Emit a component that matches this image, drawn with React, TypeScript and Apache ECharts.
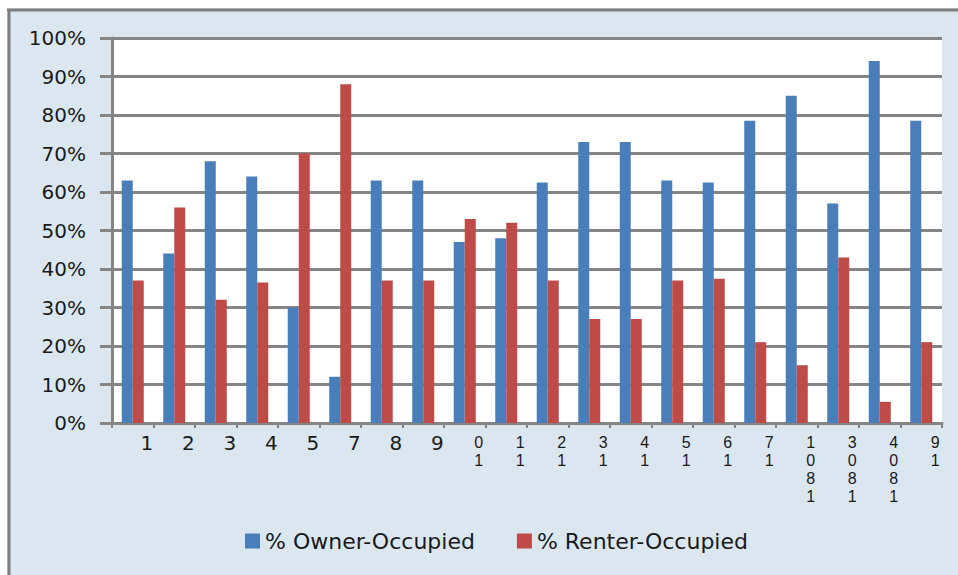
import { useEffect, useRef } from "react";
import * as echarts from "echarts";

const categories = ["1", "2", "3", "4", "5", "7", "8", "9", "10", "11", "12", "13", "14", "15", "16", "17", "1801", "1803", "1804", "19"];
const ownerOccupied = [63, 44, 68, 64, 30, 12, 63, 63, 47, 48, 62.5, 73, 73, 63, 62.5, 78.5, 85, 57, 94, 78.5];
const renterOccupied = [37, 56, 32, 36.5, 70, 88, 37, 37, 53, 52, 37, 27, 27, 37, 37.5, 21, 15, 43, 5.5, 21];
const seriesNames = ["% Owner-Occupied", "% Renter-Occupied"];

const FONT = "DejaVu Sans";
const GRAY = "#858585";

export default function App() {
  const ref = useRef<HTMLDivElement>(null);
  useEffect(() => {
    if (!ref.current) return;
    const chart = echarts.init(ref.current, null, { renderer: "svg" });
    chart.setOption({
      animation: false,
      backgroundColor: "#dbe7f0",
      textStyle: { fontFamily: FONT },
      graphic: [
        { type: "rect", silent: true, z: 100, shape: { x: 0, y: 0, width: 958, height: 8 }, style: { fill: "#ffffff" } },
        { type: "rect", silent: true, z: 100, shape: { x: 0, y: 0, width: 7, height: 575 }, style: { fill: "#ffffff" } },
        { type: "line", silent: true, z: 101, shape: { x1: 7, y1: 10, x2: 958, y2: 10 }, style: { stroke: "#7f7f7f", lineWidth: 3 } },
        { type: "line", silent: true, z: 101, shape: { x1: 9, y1: 9, x2: 9, y2: 575 }, style: { stroke: "#7f7f7f", lineWidth: 3 } },
      ],
      legend: {
        data: seriesNames,
        left: 245,
        top: 530,
        padding: 0,
        icon: "rect",
        itemWidth: 15,
        itemHeight: 15,
        itemGap: 42,
        textStyle: { fontFamily: FONT, fontSize: 22, color: "#1a1a1a" },
      },
      grid: {
        left: 112,
        right: 16,
        top: 38,
        bottom: 152,
        show: true,
        backgroundColor: "#ffffff",
        borderWidth: 0,
      },
      xAxis: {
        type: "category",
        data: categories,
        axisLine: { lineStyle: { color: GRAY, width: 3 } },
        axisTick: { show: true, length: 5, interval: 0, lineStyle: { color: GRAY, width: 2 } },
        axisLabel: {
          interval: 0,
          margin: 10,
          fontFamily: FONT,
          fontSize: 20,
          color: "#1a1a1a",
          padding: [0, 0, 0, 28],
          formatter: (v: string) => (v.length > 1 ? `{s|${v.split("").reverse().join("\n")}}` : v),
          rich: {
            s: { fontFamily: "Liberation Sans", fontSize: 16, lineHeight: 18, color: "#1a1a1a" },
          },
        },
      },
      yAxis: {
        type: "value",
        min: 0,
        max: 100,
        interval: 10,
        axisLine: { show: true, lineStyle: { color: GRAY, width: 3 } },
        axisTick: { show: true, length: 12, lineStyle: { color: GRAY, width: 3 } },
        splitLine: { show: true, lineStyle: { color: GRAY, width: 3 } },
        axisLabel: {
          margin: 26,
          fontFamily: FONT,
          fontSize: 20,
          color: "#1a1a1a",
          formatter: (v: number) => `${v}%`,
        },
      },
      series: [
        {
          name: seriesNames[0],
          type: "bar",
          data: ownerOccupied,
          barWidth: 11,
          barGap: "0%",
          itemStyle: { color: "#4a7ebb" },
        },
        {
          name: seriesNames[1],
          type: "bar",
          data: renterOccupied,
          barWidth: 11,
          barGap: "0%",
          itemStyle: { color: "#be4b48" },
        },
      ],
    });
    return () => chart.dispose();
  }, []);
  return <div ref={ref} style={{ position: "fixed", left: 0, top: 0, width: 958, height: 575 }} />;
}
